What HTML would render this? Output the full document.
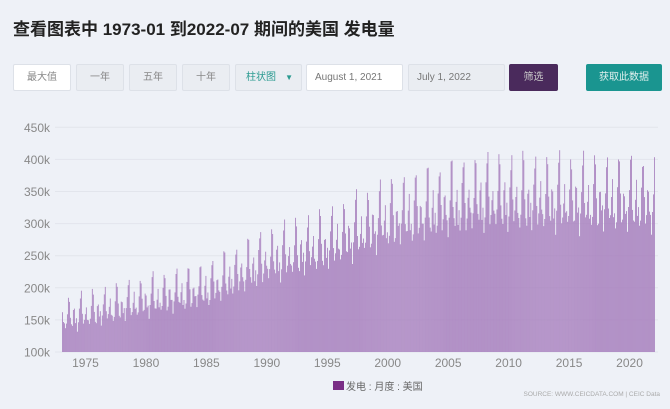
<!DOCTYPE html>
<html><head><meta charset="utf-8"><style>
body{margin:0;width:670px;height:409px;background:#eef1f7;font-family:"Liberation Sans","Noto Sans CJK SC",sans-serif;overflow:hidden;position:relative}
.t{position:absolute;left:13px;top:15px;font-size:17px;font-weight:bold;color:#222}
.b{position:absolute;top:64px;height:27px;box-sizing:border-box;border:1px solid #dde1e8;background:#eaedf2;font-size:10px;color:#888;text-align:center;line-height:25px;border-radius:2px}
svg{position:absolute;left:0;top:0}
</style></head><body>
<div class="t">查看图表中 1973-01 到2022-07 期间的美国 发电量</div>
<div class="b" style="left:13px;width:58px;background:#fff">最大值</div>
<div class="b" style="left:76px;width:48px">一年</div>
<div class="b" style="left:129px;width:48px">五年</div>
<div class="b" style="left:182px;width:48px">十年</div>
<div class="b" style="left:235px;width:67px;color:#2a9a90;text-align:left;padding-left:10px">柱状图<span style="position:absolute;right:8px;font-size:8px">▼</span></div>
<div class="b" style="left:306px;width:97px;background:#fff;text-align:left;padding-left:8px;color:#777">August 1, 2021</div>
<div class="b" style="left:408px;width:97px;text-align:left;padding-left:8px;color:#777">July 1, 2022</div>
<div class="b" style="left:509px;width:49px;background:#4a2a5c;border-color:#4a2a5c;color:#ccc">筛选</div>
<div class="b" style="left:586px;width:76px;background:#1a9590;border-color:#1a9590;color:#e0f0ee">获取此数据</div>
<svg width="670" height="409" id="s"></svg>
<script>
var s='',Y=function(v){return 352-(v-100)*32.1/50};
for(var k=100;k<=450;k+=50){var y=Y(k);s+='<line x1="55" x2="658" y1="'+y+'" y2="'+y+'" stroke="#e2e5ec" stroke-width="1"/>';s+='<text x="50" y="'+(y+4.5)+'" font-size="12" fill="#888" text-anchor="end" font-family="Liberation Sans">'+k+'k</text>';}
var T=[[1973,150],[1980,178],[1985,195],[1990,238],[1995,262],[2000,300],[2005,322],[2008,332],[2022,330]];
var S=[1.08,0.95,0.97,0.88,0.95,1.07,1.2,1.21,1.01,0.92,0.93,1.04];
function tr(t){for(var i=0;i<T.length-1;i++){if(t<=T[i+1][0])return T[i][1]+(T[i+1][1]-T[i][1])*(t-T[i][0])/(T[i+1][0]-T[i][0]);}return 330;}
var n=595,w=593/n;
for(var i=0;i<n;i++){var t=1973+i/12,m=i%12;var v=tr(t)*S[m]*(1+0.025*Math.sin(i*2.37)+0.015*Math.sin(i*0.71));
var x=62+i*w,y=Y(v);s+='<rect x="'+x.toFixed(2)+'" y="'+y.toFixed(1)+'" width="'+(w*0.8).toFixed(2)+'" height="'+(352-y).toFixed(1)+'" fill="#a47abb"/>';}
for(var yr=1975;yr<=2020;yr+=5){var x=61.3+(yr-1973)*12.09;s+='<text x="'+x+'" y="367" font-size="12" fill="#888" text-anchor="middle" font-family="Liberation Sans">'+yr+'</text>';}
s+='<rect x="333" y="381" width="11" height="9" fill="#7a2e86"/><text x="346" y="390" font-size="10" fill="#666" font-family="Liberation Sans,Noto Sans CJK SC,sans-serif">发电 : 月度 : 美国</text>';
s+='<text x="660" y="396" font-size="6.5" fill="#aaa" text-anchor="end" font-family="Liberation Sans">SOURCE: WWW.CEICDATA.COM | CEIC Data</text>';
document.getElementById('s').innerHTML=s;
</script>
</body></html>
